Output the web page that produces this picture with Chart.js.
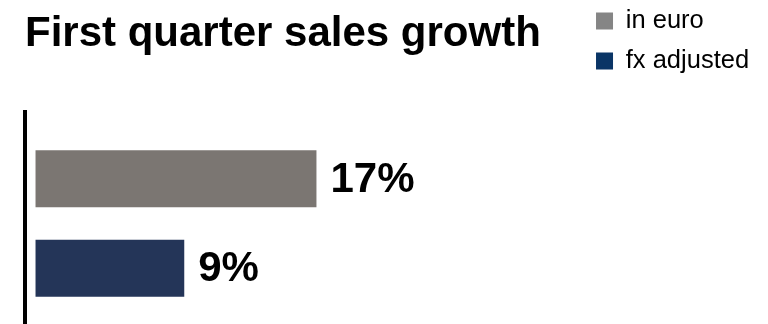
<!DOCTYPE html>
<html>
<head>
<meta charset="utf-8">
<script src="https://cdn.jsdelivr.net/npm/chart.js@4/dist/chart.umd.min.js"></script>
<style>
  html, body { margin: 0; padding: 0; background: #ffffff; overflow: hidden; }
  /* the plot area runs slightly past the bottom edge of the 324px view */
  #wrap { width: 768px; height: 335px; }
</style>
</head>
<body>
<div id="wrap"><canvas id="chart" width="768" height="335"></canvas></div>
<script>
// Sales growth, first quarter
const categories = ['Q1'];
const seriesNames = ['in euro', 'fx adjusted'];
const inEuro = [17];
const fxAdjusted = [9];
const valueSuffix = '%';

const barColors = ['#7b7672', '#243558'];
const legendColors = ['#858585', '#0a3566'];
const FONT = "'Liberation Sans', Arial, sans-serif";

// Value labels to the right of each bar end
const valueLabels = {
  id: 'valueLabels',
  afterDatasetsDraw(chart) {
    const ctx = chart.ctx;
    ctx.save();
    ctx.font = 'bold 42px ' + FONT;
    ctx.fillStyle = '#000000';
    ctx.textAlign = 'left';
    ctx.textBaseline = 'middle';
    chart.data.datasets.forEach((ds, i) => {
      const meta = chart.getDatasetMeta(i);
      meta.data.forEach((bar, j) => {
        const v = ds.data[j];
        ctx.fillText(v + valueSuffix, bar.x + 14, bar.y + 1.5);
      });
    });
    ctx.restore();
  }
};

new Chart(document.getElementById('chart'), {
  type: 'bar',
  data: {
    labels: categories,
    datasets: [
      { label: seriesNames[0], data: inEuro, backgroundColor: barColors[0], borderWidth: 0 },
      { label: seriesNames[1], data: fxAdjusted, backgroundColor: barColors[1], borderWidth: 0 }
    ]
  },
  options: {
    indexAxis: 'y',
    responsive: false,
    animation: false,
    devicePixelRatio: 1,
    categoryPercentage: 0.801,
    barPercentage: 0.638,
    layout: { padding: { left: 25, right: 8.9, top: -6.25, bottom: 0 } },
    scales: {
      x: { display: false, min: -0.637, max: 33.04 },
      y: {
        display: true,
        grid: { display: false, drawTicks: false },
        ticks: { display: false },
        border: { display: true, color: '#000000', width: 4 }
      }
    },
    plugins: {
      title: {
        display: true,
        text: 'First quarter sales growth',
        align: 'start',
        color: '#000000',
        font: { family: FONT, size: 42, weight: 'bold', lineHeight: 1.2 },
        padding: { top: 15.3, bottom: 52.55 }
      },
      legend: {
        display: true,
        position: 'right',
        align: 'start',
        labels: {
          color: '#000000',
          font: { family: FONT, size: 25.5 },
          boxWidth: 17,
          boxHeight: 17,
          padding: 14.5,
          generateLabels(chart) {
            const items = Chart.defaults.plugins.legend.labels.generateLabels(chart);
            items.forEach((it, i) => { it.fillStyle = legendColors[i]; it.strokeStyle = legendColors[i]; it.lineWidth = 0; });
            return items;
          }
        }
      },
      tooltip: { enabled: false }
    }
  },
  plugins: [valueLabels]
});
</script>
</body>
</html>
